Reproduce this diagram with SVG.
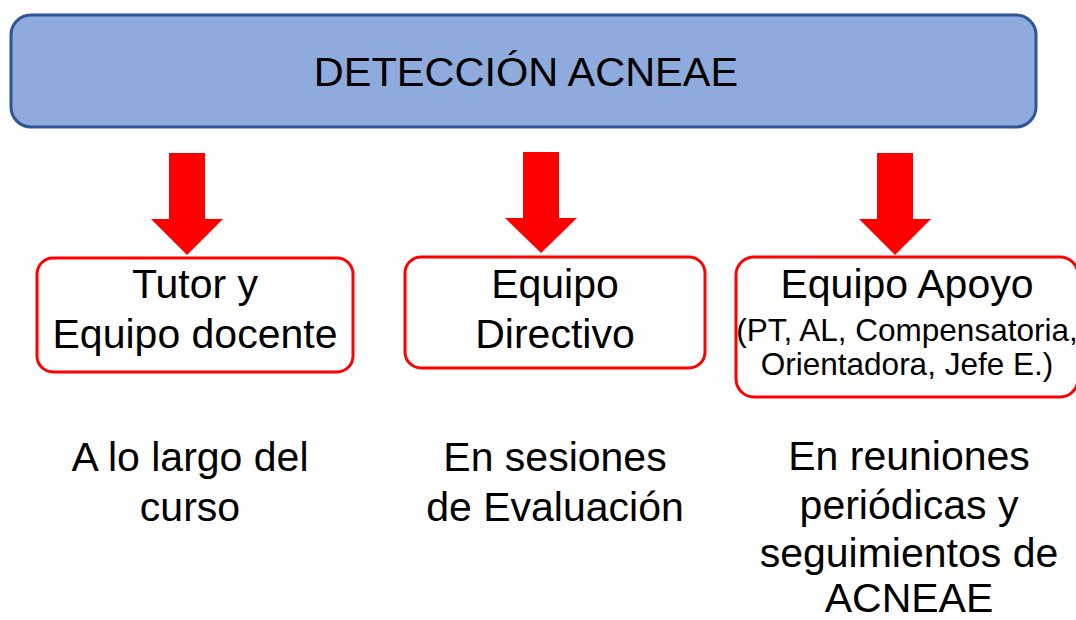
<svg xmlns="http://www.w3.org/2000/svg" width="1076" height="620" viewBox="0 0 1076 620">
<defs>
<style>
text{font-family:"Liberation Sans",Arial,sans-serif;fill:#000;text-anchor:middle}
.big{font-size:41px}
.title{font-size:41.5px}
.small{font-size:31.5px}
.box{fill:#fff;stroke:#ff0000;stroke-width:3}
.arrow{fill:#ff0000}
</style>
</defs>
<rect width="1076" height="620" fill="#fff"/>
<g id="title">
<rect x="11" y="15" width="1025" height="112" rx="20" fill="#8faadc" stroke="#2f5597" stroke-width="3"/>
<text class="title" x="526" y="86">DETECCIÓN ACNEAE</text>
</g>
<g id="connectors">
<polygon class="arrow" points="169,153 205,153 205,219 223,219 187,255 151,219 169,219"/>
<polygon class="arrow" points="523,152 559,152 559,218 577,218 541,253 505,218 523,218"/>
<polygon class="arrow" points="877,153 913,153 913,219 931,219 895,255 859,219 877,219"/>
</g>
<g id="node-tutor">
<rect class="box" x="37" y="258" width="316" height="114" rx="16"/>
<text class="big" x="195" y="298">Tutor y</text>
<text class="big" x="195" y="348">Equipo docente</text>
</g>
<g id="node-directivo">
<rect class="box" x="405" y="257" width="300" height="111" rx="16"/>
<text class="big" x="555" y="298">Equipo</text>
<text class="big" x="555" y="348">Directivo</text>
</g>
<g id="node-apoyo">
<rect class="box" x="736" y="257" width="342" height="140" rx="18"/>
<text class="big" x="907" y="298">Equipo Apoyo</text>
<text class="small" x="907" y="341">(PT, AL, Compensatoria,</text>
<text class="small" x="907" y="375">Orientadora, Jefe E.)</text>
</g>
<g id="label-1">
<text class="big" x="190" y="471">A lo largo del</text>
<text class="big" x="190" y="521">curso</text>
</g>
<g id="label-2">
<text class="big" x="555" y="471">En sesiones</text>
<text class="big" x="555" y="521">de Evaluación</text>
</g>
<g id="label-3">
<text class="big" x="909" y="470">En reuniones</text>
<text class="big" x="909" y="519">periódicas y</text>
<text class="big" x="909" y="567">seguimientos de</text>
<text class="big" x="909" y="612">ACNEAE</text>
</g>
</svg>
